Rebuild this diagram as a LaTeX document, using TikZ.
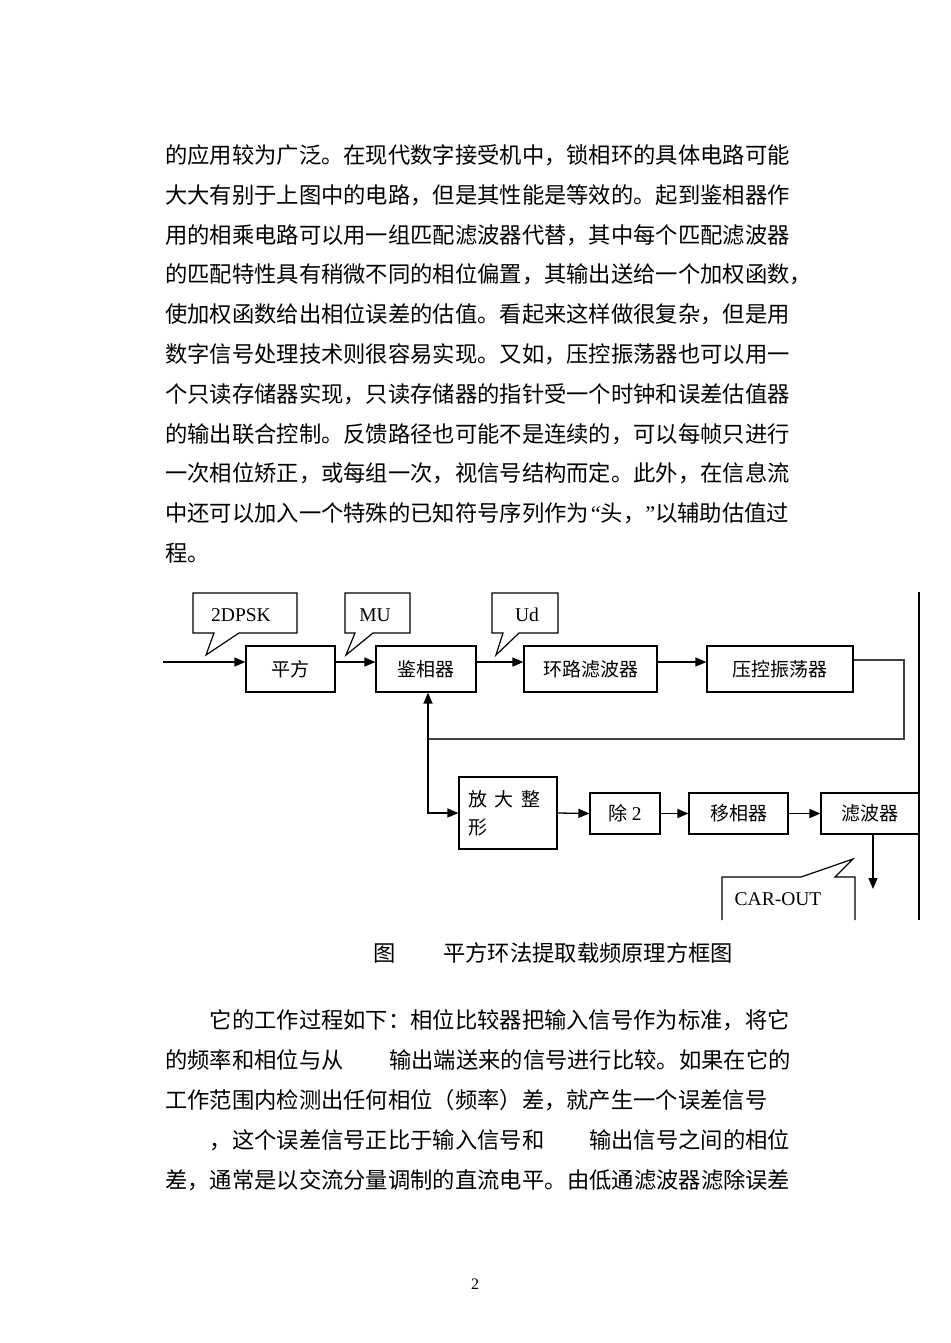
\documentclass[tikz,border=0pt]{standalone}
\usepackage{fontspec}
\setmainfont{Liberation Serif}
\newfontfamily\cjk{Noto Sans CJK SC}
\usetikzlibrary{arrows.meta}
\newcommand\bodyf{\cjk\fontsize{22.3}{26}\selectfont}
\newcommand\diaf{\cjk\fontsize{19}{24}\selectfont}
\newcommand\latf{\rmfamily\fontsize{19.5}{24}\selectfont}
\begin{document}
\begin{tikzpicture}[x=1pt,y=-1pt,
  body/.style={anchor=west,inner sep=0pt,font=\bodyf,text height=19.6pt,text depth=2.7pt},
  blk/.style={draw,line width=1.2pt,inner sep=0pt,font=\diaf},
  lbl/.style={inner sep=0pt,font=\latf},
  wire/.style={line width=1.2pt},
  arr/.style={line width=1.3pt,-{Triangle[length=11pt,width=9pt]}},
  callout/.style={draw,line width=1.2pt,line join=miter}]
\fill[white] (0,0) rectangle (950,1343);
\useasboundingbox (0,0) rectangle (950,1343);

% ---- paragraph 1 ----
\node[body] (t1) at (165,155) {的应用较为广泛。在现代数字接受机中，锁相环的具体电路可能};
\node[body] (t2) at (165,194.8) {大大有别于上图中的电路，但是其性能是等效的。起到鉴相器作};
\node[body] (t3) at (165,234.6) {用的相乘电路可以用一组匹配滤波器代替，其中每个匹配滤波器};
\node[body] (t4) at (165,274.4) {的匹配特性具有稍微不同的相位偏置，其输出送给一个加权函数，};
\node[body] (t5) at (165,314.2) {使加权函数给出相位误差的估值。看起来这样做很复杂，但是用};
\node[body] (t6) at (165,354) {数字信号处理技术则很容易实现。又如，压控振荡器也可以用一};
\node[body] (t7) at (165,393.8) {个只读存储器实现，只读存储器的指针受一个时钟和误差估值器};
\node[body] (t8) at (165,433.6) {的输出联合控制。反馈路径也可能不是连续的，可以每帧只进行};
\node[body] (t9) at (165,473.4) {一次相位矫正，或每组一次，视信号结构而定。此外，在信息流};
\node[body] (t10) at (165,513.2) {中还可以加入一个特殊的已知符号序列作为\hspace{2pt}{\rmfamily “}头，{\rmfamily ”}以辅助估值过};
\node[body] (t11) at (165,553) {程。};

% ---- diagram ----
\node[blk,minimum width=89pt,minimum height=46pt] (pf) at (290.5,669) {平方};
\node[blk,minimum width=100pt,minimum height=46pt] (jx) at (426,669) {鉴相器};
\node[blk,minimum width=133pt,minimum height=46pt] (hl) at (590.5,669) {环路滤波器};
\node[blk,minimum width=146pt,minimum height=46pt] (yk) at (780,669) {压控振荡器};

\node[blk,minimum width=98pt,minimum height=72pt,text width=80pt,align=left] (fz) at (508,813) {放\hspace{0.4em}大\hspace{0.4em}整\\[4pt]形};
\node[blk,minimum width=70pt,minimum height=41pt] (cr) at (625,813.5) {除 {\latf 2}};
\node[blk,minimum width=99pt,minimum height=41pt] (yx) at (738.5,813.5) {移相器};
\node[blk,minimum width=98pt,minimum height=41pt] (lb) at (870,813.5) {滤波器};

\coordinate (in) at (163,662);
\coordinate (c1) at (904,739);
\coordinate (c2) at (428,739);
\coordinate (out) at (873,889);
\coordinate (vt) at (919,592);
\coordinate (vb) at (919,920);

\draw[arr] (in) -- ([yshift=7pt]pf.west);
\draw[arr] ([yshift=7pt]pf.east) -- ([yshift=7pt]jx.west);
\draw[arr] ([yshift=7pt]jx.east) -- ([yshift=7pt]hl.west);
\draw[arr] ([yshift=7pt]hl.east) -- ([yshift=7pt]yk.west);
\draw[wire,black!75] ([yshift=9pt]yk.east) -| (c1) -- (c2);
\draw[arr] (c2) -- (c2 |- jx.south);
\draw[arr] (c2) |- (fz.west);
\draw[arr] (fz.east) -- (cr.west);
\draw[arr] (cr.east) -- (yx.west);
\draw[arr] (yx.east) -- (lb.west);
\draw[arr] (lb.south -| out) -- (out);
\draw[wire] (vt) -- (vb);

% callouts
\draw[callout] (193,593) -- (297,593) -- (297,633) -- (239,633) -- (206,655) -- (214,633) -- (193,633) -- cycle;
\node[lbl] (l1) at (241,615) {2DPSK};
\draw[callout] (345,593) -- (410,593) -- (410,633) -- (373,633) -- (346,655) -- (355,633) -- (345,633) -- cycle;
\node[lbl] (l2) at (375,615) {MU};
\draw[callout] (492,593) -- (558,593) -- (558,633) -- (519,633) -- (496,655) -- (503,633) -- (492,633) -- cycle;
\node[lbl] (l3) at (527,615) {Ud};
\draw[callout] (722,920) -- (722,877) -- (801,877) -- (853,859) -- (835,877) -- (855,877) -- (855,920);
\node[lbl] (l4) at (778,899) {CAR-OUT};

% caption
\node[body] (cap1) at (373,953) {图};
\node[body] (cap2) at (443,953) {平方环法提取载频原理方框图};

% ---- paragraph 2 ----
\node[body] (s1) at (209.6,1020) {它的工作过程如下：相位比较器把输入信号作为标准，将它};
\node[body] (s2a) at (165,1060) {的频率和相位与从};
\node[body] (s2b) at (389,1060) {输出端送来的信号进行比较。如果在它的};
\node[body] (s3) at (165,1100) {工作范围内检测出任何相位（频率）差，就产生一个误差信号};
\node[body] (s4a) at (209.6,1140) {，这个误差信号正比于输入信号和};
\node[body] (s4b) at (589,1140) {输出信号之间的相位};
\node[body] (s5a) at (165,1180) {差，通常是以交流分量调制的直流电平。};
\node[body] (s5b) at (567,1180) {由低通滤波器滤除误差};

\node[inner sep=0pt,font=\rmfamily\fontsize{16}{16}\selectfont] (pg) at (475,1284) {2};
\end{tikzpicture}
\end{document}
